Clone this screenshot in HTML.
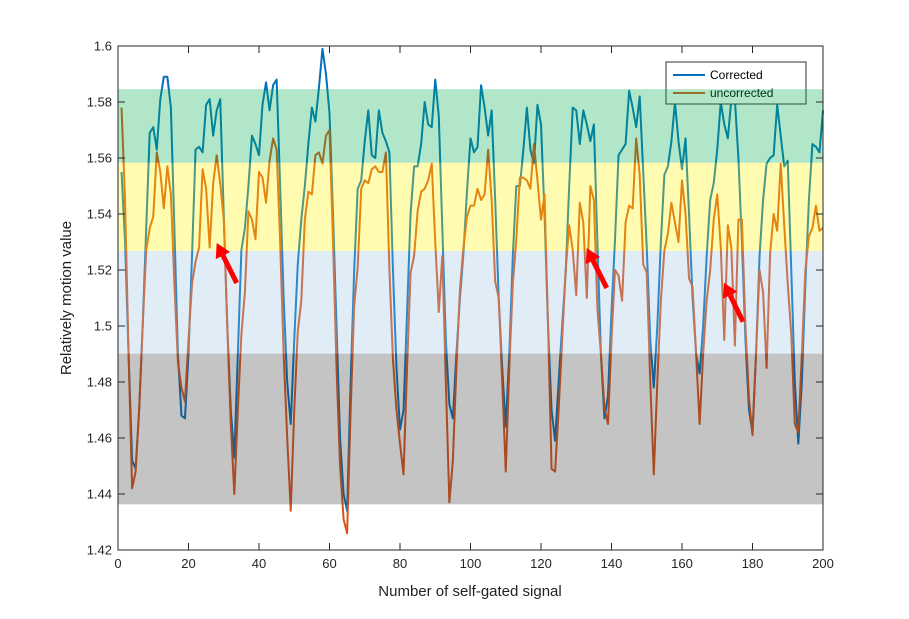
<!DOCTYPE html>
<html><head><meta charset="utf-8"><style>
body{margin:0;background:#fff}
svg{display:block;font-family:"Liberation Sans",sans-serif}
</style></head><body>
<svg id="chart" width="909" height="619" viewBox="0 0 909 619">
<rect width="909" height="619" fill="#fff"/>
<g id="lines"></g>
<g id="legend">
<rect x="666" y="62" width="140" height="42" fill="#fff" stroke="#333" stroke-width="1"/>
<line x1="673" y1="75" x2="705" y2="75" stroke="#0072BD" stroke-width="2"/>
<text x="710" y="79" font-size="12" fill="#000">Corrected</text>
<line x1="673" y1="93" x2="705" y2="93" stroke="#D95319" stroke-width="2"/>
<text x="710" y="97" font-size="12" fill="#000">uncorrected</text>
</g>
<g id="bands"></g>
<g id="axes"></g>
<g id="arrows"></g>
<text x="470" y="596" font-size="15" text-anchor="middle" fill="#222">Number of self-gated signal</text>
<text transform="translate(71,298) rotate(-90)" font-size="15" text-anchor="middle" fill="#222">Relatively motion value</text>
</svg>
<script>
const corrected=[1.555,1.530,1.490,1.452,1.449,1.470,1.500,1.535,1.569,1.571,1.563,1.581,1.589,1.589,1.578,1.535,1.490,1.468,1.467,1.490,
1.525,1.563,1.564,1.562,1.579,1.581,1.568,1.577,1.581,1.540,1.500,1.470,1.453,1.490,1.527,1.535,1.550,1.568,1.565,1.561,
1.579,1.587,1.577,1.586,1.588,1.550,1.510,1.480,1.465,1.495,1.522,1.538,1.550,1.565,1.578,1.573,1.585,1.599,1.590,1.576,
1.540,1.500,1.460,1.440,1.434,1.480,1.520,1.549,1.552,1.566,1.577,1.561,1.560,1.577,1.569,1.566,1.562,1.520,1.485,1.463,
1.470,1.505,1.540,1.557,1.557,1.565,1.580,1.572,1.571,1.588,1.575,1.535,1.495,1.472,1.467,1.490,1.510,1.526,1.548,1.567,
1.562,1.564,1.586,1.578,1.568,1.577,1.545,1.510,1.485,1.464,1.490,1.525,1.550,1.550,1.563,1.578,1.563,1.558,1.579,1.572,
1.540,1.500,1.470,1.459,1.480,1.500,1.519,1.550,1.578,1.577,1.565,1.577,1.572,1.566,1.572,1.530,1.490,1.467,1.475,1.505,
1.531,1.561,1.563,1.565,1.584,1.578,1.571,1.582,1.555,1.528,1.495,1.478,1.500,1.530,1.554,1.557,1.566,1.580,1.566,1.556,
1.567,1.540,1.510,1.490,1.483,1.500,1.525,1.545,1.551,1.563,1.580,1.572,1.567,1.581,1.581,1.560,1.530,1.495,1.470,1.462,
1.490,1.525,1.545,1.558,1.560,1.561,1.579,1.568,1.557,1.559,1.520,1.480,1.458,1.480,1.515,1.545,1.565,1.564,1.562,1.577];
const uncorrected=[1.578,1.545,1.490,1.442,1.448,1.470,1.500,1.527,1.535,1.539,1.562,1.555,1.542,1.557,1.547,1.515,1.487,1.478,1.473,1.495,
1.515,1.523,1.528,1.556,1.549,1.528,1.551,1.561,1.551,1.538,1.500,1.465,1.440,1.470,1.497,1.512,1.541,1.538,1.531,1.555,
1.553,1.544,1.559,1.567,1.563,1.530,1.490,1.460,1.434,1.470,1.498,1.509,1.538,1.548,1.547,1.561,1.562,1.558,1.568,1.570,
1.530,1.485,1.450,1.431,1.426,1.470,1.507,1.521,1.549,1.552,1.551,1.556,1.557,1.555,1.555,1.562,1.520,1.488,1.470,1.458,
1.447,1.485,1.519,1.525,1.541,1.548,1.549,1.552,1.558,1.530,1.505,1.525,1.480,1.437,1.452,1.485,1.513,1.528,1.539,1.543,
1.543,1.549,1.545,1.547,1.563,1.545,1.516,1.510,1.480,1.448,1.485,1.515,1.531,1.553,1.553,1.552,1.549,1.565,1.552,1.538,
1.547,1.500,1.449,1.448,1.470,1.495,1.520,1.536,1.527,1.511,1.544,1.537,1.510,1.550,1.545,1.506,1.490,1.471,1.465,1.495,
1.520,1.518,1.509,1.537,1.543,1.542,1.567,1.554,1.522,1.519,1.480,1.447,1.480,1.509,1.527,1.533,1.544,1.537,1.530,1.552,
1.540,1.517,1.514,1.490,1.465,1.490,1.509,1.520,1.538,1.547,1.528,1.495,1.536,1.528,1.493,1.538,1.538,1.500,1.474,1.461,
1.490,1.520,1.512,1.485,1.526,1.540,1.534,1.558,1.536,1.515,1.497,1.465,1.462,1.490,1.520,1.532,1.535,1.543,1.534,1.535];
const xTicks=[0,20,40,60,80,100,120,140,160,180,200];
const yTicks=[1.42,1.44,1.46,1.48,1.5,1.52,1.54,1.56,1.58,1.6];
const yTickLabels=["1.42","1.44","1.46","1.48","1.5","1.52","1.54","1.56","1.58","1.6"];
const bandLows=[1.5583,1.5268,1.4901,1.4363];
const bandHighs=[1.5846,1.5583,1.5268,1.4901];
const bandNames=["band-green","band-yellow","band-blue","band-gray"];
const bandColors=["rgb(0,172,75)","rgb(255,245,0)","rgb(152,192,225)","rgb(58,58,58)"];

const L=118,R=823,T=46,B=550,X0=0,X1=200,Y0=1.42,Y1=1.6;
const sx=v=>L+(v-X0)/(X1-X0)*(R-L);
const sy=v=>B-(v-Y0)/(Y1-Y0)*(B-T);
const NS="http://www.w3.org/2000/svg";
function mk(tag,attrs,parent){const e=document.createElementNS(NS,tag);for(const k in attrs)e.setAttribute(k,attrs[k]);parent.appendChild(e);return e;}

const lines=document.getElementById('lines');
[[uncorrected,"#D95319","uncorrected-line"],[corrected,"#0072BD","corrected-line"]].forEach(([d,c,n])=>{
  const pts=d.map((v,i)=>sx(i+1).toFixed(2)+","+sy(v).toFixed(2)).join(" ");
  const p=mk('polyline',{points:pts,fill:"none",stroke:c,"stroke-width":2,"stroke-linejoin":"round"},lines);
  
  
});
// corrected drawn on top? reference shows orange over blue in places; draw orange last
lines.appendChild(lines.firstChild);

const bands=document.getElementById('bands');
bandLows.forEach((lo,i)=>{
  const r=mk('rect',{x:L,y:sy(bandHighs[i]),width:R-L,height:sy(lo)-sy(bandHighs[i]),fill:bandColors[i],"fill-opacity":0.3},bands);
  
  
});

const ax=document.getElementById('axes');
const box=mk('rect',{x:L,y:T,width:R-L,height:B-T,fill:"none",stroke:"#262626","stroke-width":1},ax);


xTicks.forEach(t=>{
  const x=sx(t);
  mk('line',{x1:x,y1:B,x2:x,y2:B-7,stroke:"#262626"},ax);
  mk('line',{x1:x,y1:T,x2:x,y2:T+7,stroke:"#262626"},ax);
  const tx=mk('text',{x:x,y:B+18,"font-size":13,"text-anchor":"middle",fill:"#262626"},ax);
  tx.textContent=t;
  
  
});
yTicks.forEach((t,i)=>{
  const y=sy(t);
  mk('line',{x1:L,y1:y,x2:L+7,y2:y,stroke:"#262626"},ax);
  mk('line',{x1:R,y1:y,x2:R-7,y2:y,stroke:"#262626"},ax);
  const tx=mk('text',{x:L-6,y:y+4.5,"font-size":13,"text-anchor":"end",fill:"#262626"},ax);
  tx.textContent=yTickLabels[i];
  
  
});

const arrows=document.getElementById('arrows');
[[236.7,283,216.7,243],[606.7,288,586.7,248],[743,321.7,724,282.7]].forEach(a=>{
  const [x1,y1,x2,y2]=a;const dx=x2-x1,dy=y2-y1,len=Math.hypot(dx,dy),ux=dx/len,uy=dy/len;
  const hx=x2-ux*14,hy=y2-uy*14;
  const g=mk('g',{},arrows);
  
  
  mk('line',{x1:x1,y1:y1,x2:hx,y2:hy,stroke:"#FF0000","stroke-width":5},g);
  mk('polygon',{points:`${x2},${y2} ${hx-uy*8},${hy+ux*8} ${hx+uy*8},${hy-ux*8}`,fill:"#FF0000"},g);
});
</script>
</body></html>
